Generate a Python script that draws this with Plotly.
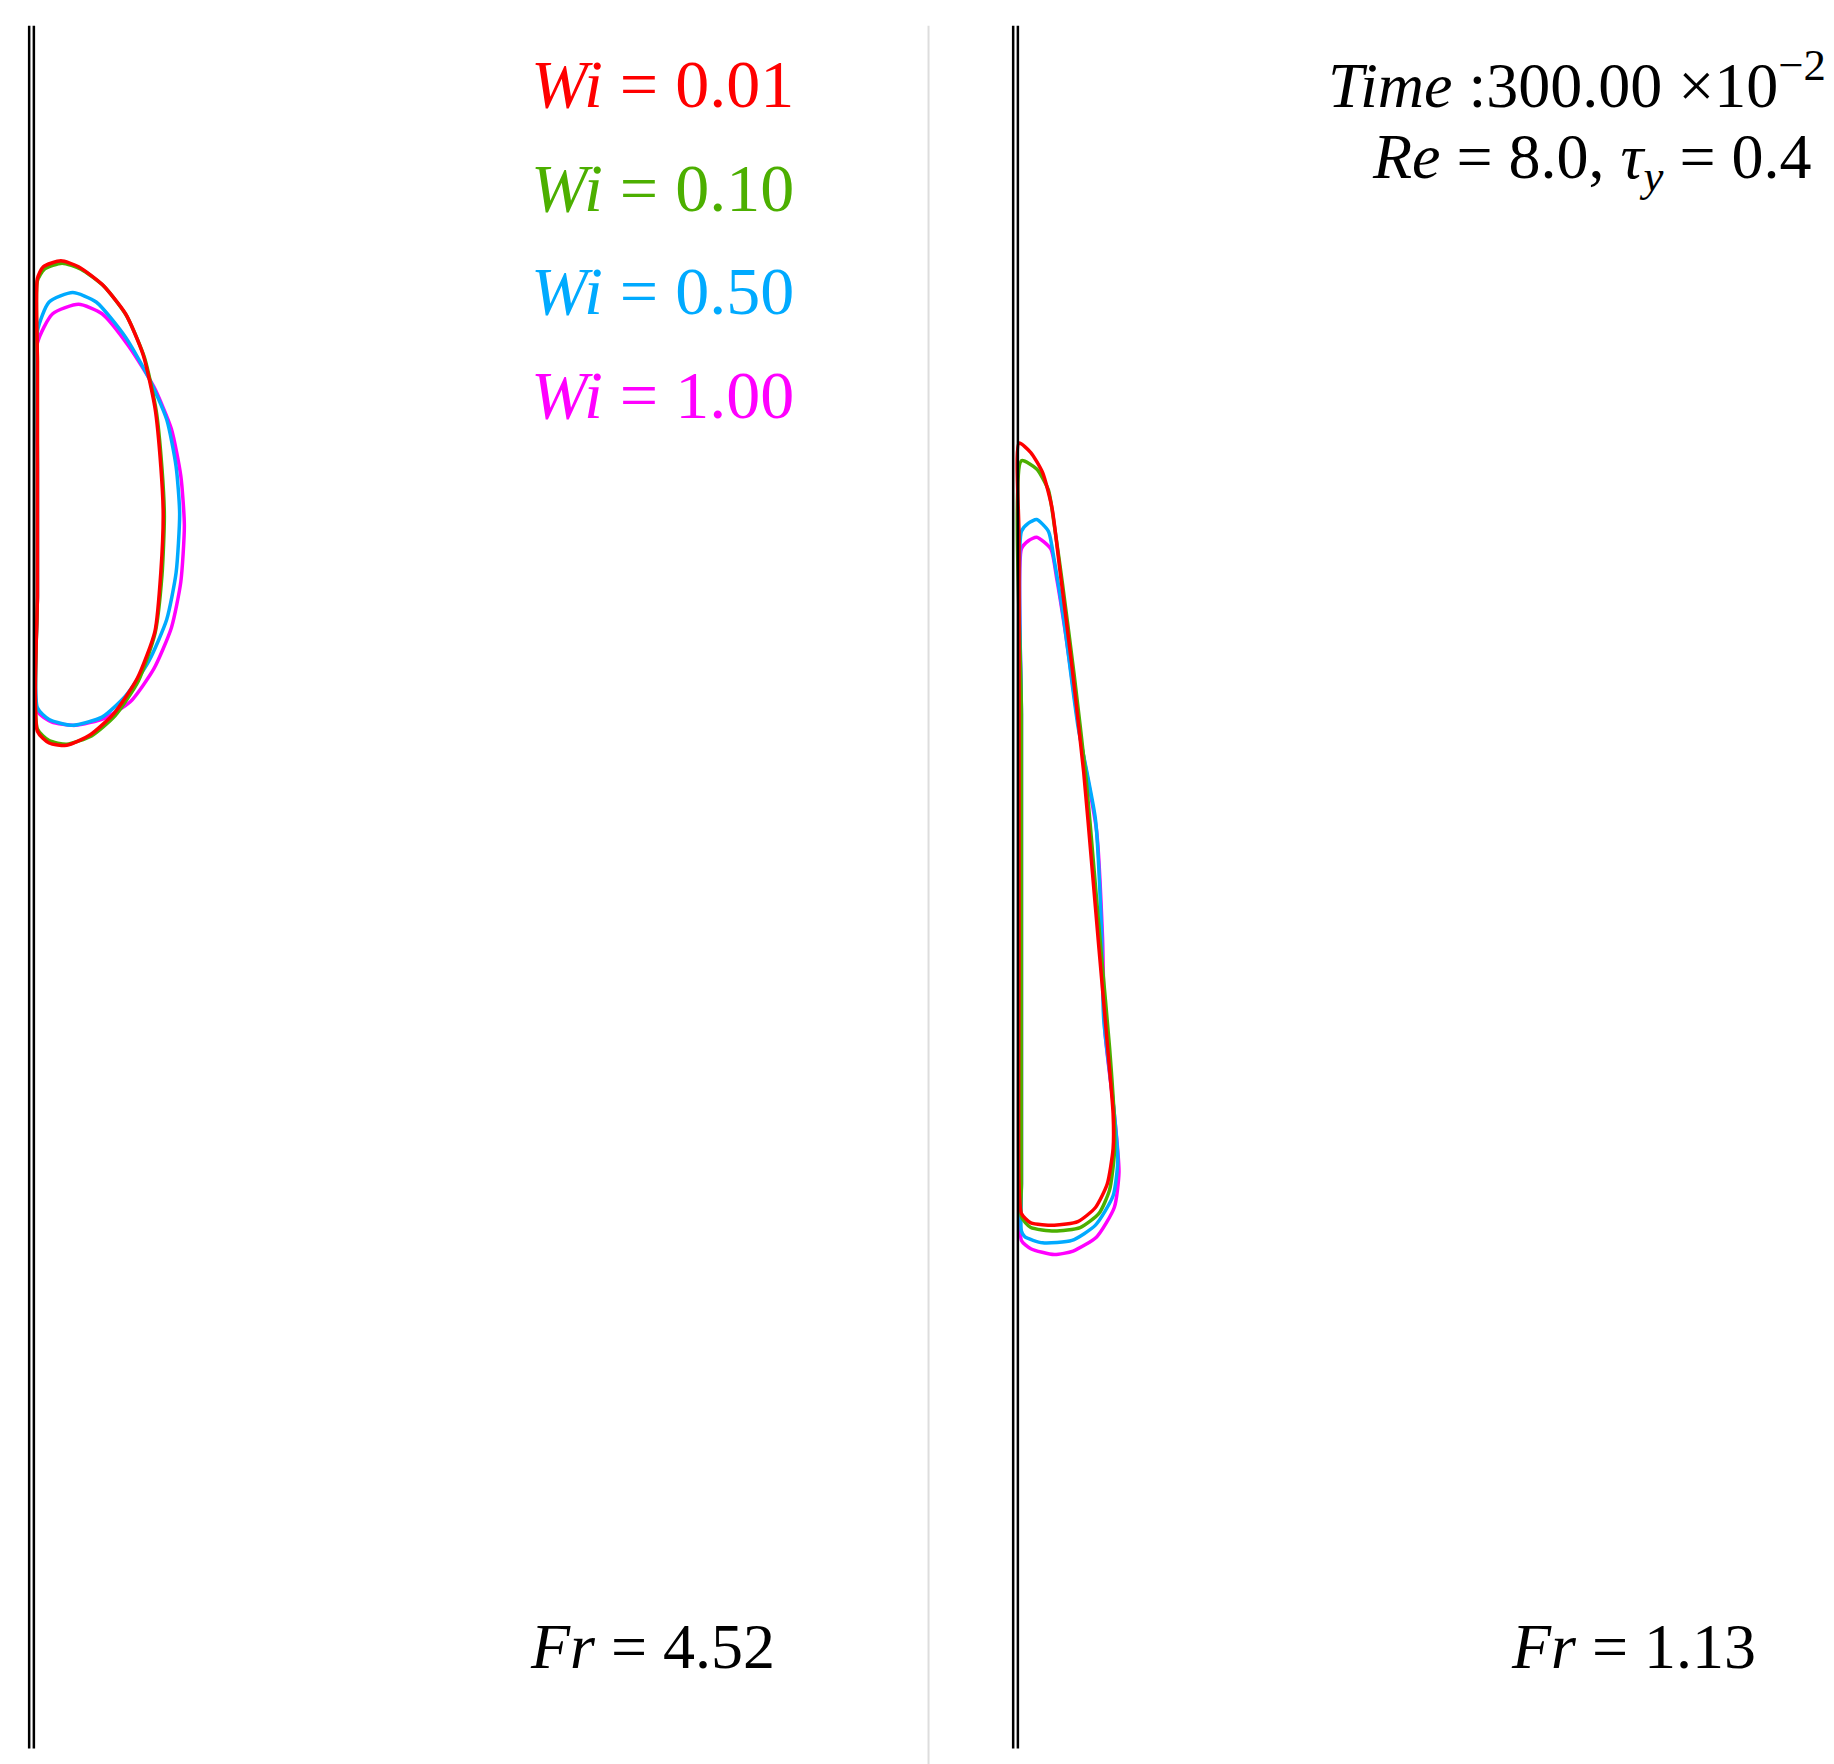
import plotly.graph_objects as go

# Contours in (r, z) units (display-pixel based), left panel and right panel
L_red_r = [25,30,45,60,80,100,115,125,130,132,130,125,110,90,70,50,35,25,25,25,25,25]
L_red_z = [230,220,215,220,235,260,295,340,390,430,480,530,570,600,618,627,625,615,500,400,300,230]
L_grn_r = [25,31,46,62,82,101,116,126,131,133,131,125,111,91,71,50,35,25,25,25,25,25]
L_grn_z = [232,222,217,222,237,262,297,342,392,432,482,532,572,602,619,626,623,613,500,400,300,232]
L_blu_r = [25,35,55,75,100,120,135,143,146,143,135,120,100,80,55,35,25,25,25,25]
L_blu_z = [275,250,242,250,280,315,350,390,430,480,520,555,585,603,610,605,595,500,380,275]
L_mag_r = [25,38,60,80,103,124,139,147,150,147,139,124,104,82,57,37,25,25,25,25]
L_mag_z = [285,260,252,260,288,322,358,398,440,488,527,562,590,604,610,607,598,500,390,285]

R_red_r = [860,870,880,888,895,905,915,922,928,935,940,940,935,925,910,890,870,862,860,860,860,860,860]
R_red_z = [370,378,395,425,480,560,650,730,800,880,940,970,1000,1020,1032,1035,1033,1025,1000,800,600,450,370]
R_grn_r = [862,875,885,890,897,907,917,924,930,937,941,941,937,928,912,890,870,862,862,862,862,862]
R_grn_z = [385,392,410,440,490,568,655,735,805,884,945,975,1005,1025,1037,1040,1037,1028,1000,800,600,385]
R_blu_r = [862,868,875,885,890,898,910,925,930,932,940,944,940,925,905,880,865,862,862,862,862,862]
R_blu_z = [445,438,435,445,470,520,610,690,780,860,930,980,1010,1035,1048,1050,1045,1040,1000,800,600,445]
R_mag_r = [862,868,875,887,892,900,912,926,931,933,941,945,941,926,906,890,870,862,862,862,862,862]
R_mag_z = [460,453,450,460,485,535,620,700,790,870,940,990,1020,1045,1057,1060,1055,1048,1000,800,600,460]

wi_labels = ["0.01", "0.10", "0.50", "1.00"]
colors = ["#ff0000", "#4caf00", "#00aaff", "#ff00ff"]

fig = go.Figure()
left = [(L_red_r, L_red_z), (L_grn_r, L_grn_z), (L_blu_r, L_blu_z), (L_mag_r, L_mag_z)]
right = [(R_red_r, R_red_z), (R_grn_r, R_grn_z), (R_blu_r, R_blu_z), (R_mag_r, R_mag_z)]
for (r, z), c in zip(left[::-1] + right[::-1], colors[::-1] + colors[::-1]):
    fig.add_trace(go.Scatter(x=r, y=z, mode="lines",
                             line=dict(color=c, width=3.5, shape="spline", smoothing=0.6), showlegend=False))

# walls
for x in [18, 22, 855, 859]:
    fig.add_shape(type="line", x0=x, x1=x, y0=15, y1=1480, line=dict(color="black", width=2.5))
fig.add_shape(type="line", x0=783, x1=783, y0=15, y1=1495, line=dict(color="#dddddd", width=2))

font = "Liberation Serif"
for i, (lab, c) in enumerate(zip(wi_labels, colors)):
    fig.add_annotation(x=670, y=65 + 88 * i, xanchor="right", yanchor="middle", showarrow=False,
                       text=f"<i>Wi</i> = {lab}", font=dict(family=font, size=68, color=c))
fig.add_annotation(x=1548, y=62, xanchor="right", yanchor="middle", showarrow=False,
                   text="<i>Time</i> :300.00 ×10<sup>−2</sup>", font=dict(family=font, size=64, color="black"))
fig.add_annotation(x=1535, y=130, xanchor="right", yanchor="middle", showarrow=False,
                   text="<i>Re</i> = 8.0, <i>τ<sub>y</sub></i> = 0.4", font=dict(family=font, size=64, color="black"))
fig.add_annotation(x=548, y=1393, xanchor="center", yanchor="middle", showarrow=False,
                   text="<i>Fr</i> = 4.52", font=dict(family=font, size=64, color="black"))
fig.add_annotation(x=1383, y=1393, xanchor="center", yanchor="middle", showarrow=False,
                   text="<i>Fr</i> = 1.13", font=dict(family=font, size=64, color="black"))

fig.update_layout(width=1834, height=1764, margin=dict(l=0, r=0, t=0, b=0),
                  plot_bgcolor="white", paper_bgcolor="white",
                  xaxis=dict(range=[0, 1560], visible=False, fixedrange=True),
                  yaxis=dict(range=[1500, 0], visible=False, fixedrange=True))
fig.write_html("out.html")
